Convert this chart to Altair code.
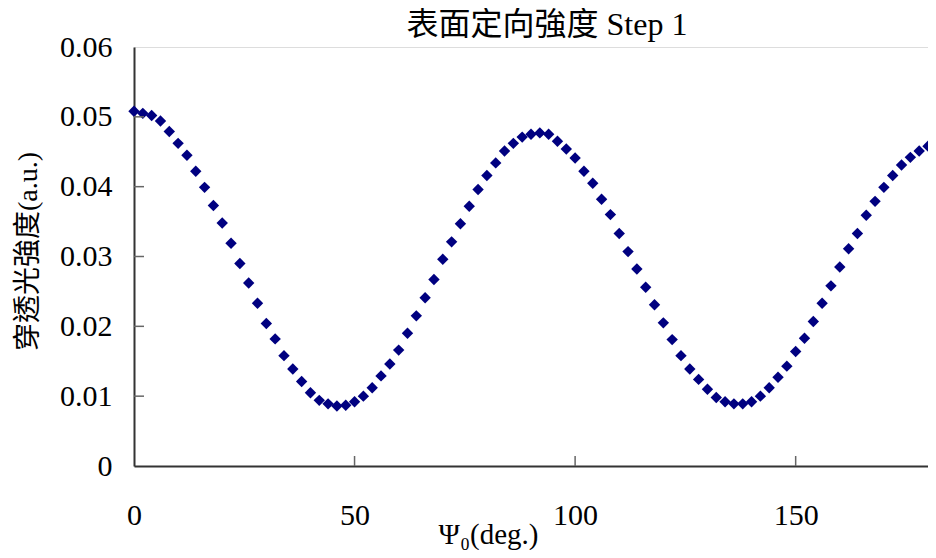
import altair as alt
import pandas as pd

angles = [0, 2, 4, 6, 8, 10, 12, 14, 16, 18,
          20, 22, 24, 26, 28, 30, 32, 34, 36, 38,
          40, 42, 44, 46, 48, 50, 52, 54, 56, 58,
          60, 62, 64, 66, 68, 70, 72, 74, 76, 78,
          80, 82, 84, 86, 88, 90, 92, 94, 96, 98,
          100, 102, 104, 106, 108, 110, 112, 114, 116, 118,
          120, 122, 124, 126, 128, 130, 132, 134, 136, 138,
          140, 142, 144, 146, 148, 150, 152, 154, 156, 158,
          160, 162, 164, 166, 168, 170, 172, 174, 176, 178,
          180]

intensity = [0.0508, 0.0505, 0.0502, 0.0494, 0.0479, 0.0462, 0.0445, 0.0422, 0.0399, 0.0373,
             0.0348, 0.0319, 0.0290, 0.0262, 0.0233, 0.0204, 0.0182, 0.0158, 0.0139, 0.0121,
             0.0105, 0.0094, 0.0089, 0.0086, 0.0087, 0.0092, 0.0100, 0.0112, 0.0129, 0.0146,
             0.0166, 0.0190, 0.0215, 0.0241, 0.0267, 0.0296, 0.0321, 0.0347, 0.0372, 0.0396,
             0.0416, 0.0434, 0.0451, 0.0462, 0.0471, 0.0475, 0.0477, 0.0475, 0.0465, 0.0454,
             0.0441, 0.0422, 0.0405, 0.0382, 0.0360, 0.0333, 0.0307, 0.0282, 0.0256, 0.0231,
             0.0205, 0.0181, 0.0158, 0.0139, 0.0124, 0.0110, 0.0098, 0.0092, 0.0089, 0.0089,
             0.0092, 0.0100, 0.0112, 0.0127, 0.0143, 0.0164, 0.0183, 0.0207, 0.0233, 0.0258,
             0.0285, 0.0311, 0.0333, 0.0359, 0.0379, 0.0399, 0.0416, 0.0431, 0.0442, 0.0451,
             0.0458]

x_ticks = [0, 50, 100, 150]
y_ticks = [0, 0.01, 0.02, 0.03, 0.04, 0.05, 0.06]
x_inner_ticks = [50, 100, 150]
y_inner_ticks = [0.01, 0.02, 0.03, 0.04, 0.05]

title_text = "表面定向強度 Step 1"
x_title = "Ψ₀(deg.)"
y_title = "穿透光強度(a.u.)"

FONT = "Liberation Serif, Times New Roman, Noto Sans CJK TC, serif"
W, H = 794, 419

df = pd.DataFrame({"angle": angles, "value": intensity})

xscale = alt.Scale(domain=[0, 180], nice=False, zero=False)
yscale = alt.Scale(domain=[0, 0.06], nice=False)

xaxis = alt.Axis(values=x_ticks, title=x_title, ticks=False,
                 labelPadding=34, labelFontSize=30, labelFont=FONT,
                 labelColor="black", labelFlush=False,
                 domainColor="#333333", domainWidth=2, grid=False,
                 titleFont=FONT, titleFontSize=29, titleFontWeight="normal",
                 titleColor="black", titleX=354, titleY=68,
                 titleBaseline="middle", titleAlign="center")
yaxis = alt.Axis(values=y_ticks, title=y_title, ticks=False,
                 labelPadding=22, labelFontSize=30, labelFont=FONT,
                 labelColor="black", labelFlush=False,
                 labelExpr="datum.value == 0 ? '0' : format(datum.value, '.2f')",
                 domainColor="#333333", domainWidth=2, grid=False,
                 titleFont=FONT, titleFontSize=28, titleFontWeight="normal",
                 titleColor="black", titleX=-106, titleY=204,
                 titleBaseline="middle", titleAlign="center", titleAngle=270)

points = alt.Chart(df).mark_point(
    shape="diamond", filled=True, size=130, color="#000080", opacity=1
).encode(
    x=alt.X("angle:Q", scale=xscale, axis=xaxis),
    y=alt.Y("value:Q", scale=yscale, axis=yaxis),
)

ytick_df = pd.DataFrame({"value": y_inner_ticks})
xtick_df = pd.DataFrame({"angle": x_inner_ticks})

ytick_rules = alt.Chart(ytick_df).mark_rule(color="#666666", strokeWidth=1.5).encode(
    y=alt.Y("value:Q", scale=yscale, axis=yaxis),
    x=alt.value(0), x2=alt.value(10),
)
xtick_rules = alt.Chart(xtick_df).mark_rule(color="#666666", strokeWidth=1.5).encode(
    x=alt.X("angle:Q", scale=xscale, axis=xaxis),
    y=alt.value(H - 10), y2=alt.value(H),
)

chart = alt.layer(points, ytick_rules, xtick_rules).properties(
    width=W, height=H,
    autosize=alt.AutoSizeParams(type="none"),
    padding={"left": 126, "top": 39, "right": 0, "bottom": 84},
    title=alt.TitleParams(title_text, font=FONT, fontSize=32, fontWeight="normal",
                          color="black", anchor="middle", dx=16, offset=-10),
).configure_view(
    stroke="#808080", strokeWidth=2
).configure(background="white")

chart.save("out.html", embed_options={"renderer": "svg", "actions": False})
